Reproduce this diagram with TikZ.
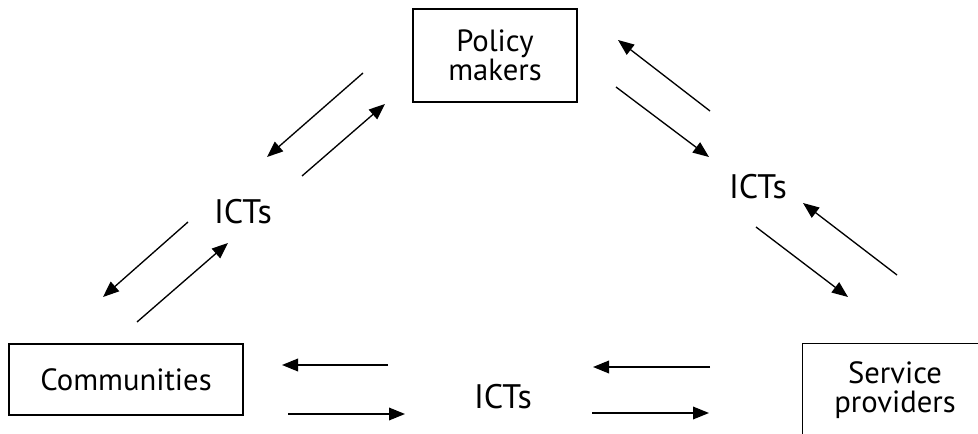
\documentclass[tikz,border=0pt]{standalone}
\usepackage{fontspec}
\setmainfont{PT Sans}
\usetikzlibrary{arrows.meta}

\begin{document}
\begin{tikzpicture}[x=0.75pt,y=-0.75pt,
  actor/.style={draw,line width=1.1pt,align=center,inner sep=0pt,
    font=\fontsize{23}{21.5}\selectfont},
  medium/.style={inner sep=0pt,font=\fontsize{25.5}{27}\selectfont},
  flow/.style={line width=1pt,-{Triangle[length=12pt,width=9.5pt]}}]
  \useasboundingbox (0,0) rectangle (978,434);
  % the three actors
  \node[actor,minimum width=123pt,minimum height=70pt,
    font=\fontsize{23}{19}\selectfont] (policy) at (495,55.5) {Policy\\makers};
  \node[actor,minimum width=175.5pt,minimum height=53pt] (comm) at (126,379.5) {Communities};
  % this one runs off the page, so only its left and top sides are stroked
  \node[actor,draw=none,minimum width=138pt,minimum height=69pt] (serv) at (895,390) {Service\\providers};
  \draw[line width=1.1pt] (serv.south west) |- (serv.north east);
  % ICTs in between each pair
  \node[medium] (ictL) at (243,212) {ICTs};
  \node[medium] (ictR) at (758,187) {ICTs};
  \node[medium] (ictB) at (503,397) {ICTs};
  % arrow ends, policy makers <-> communities
  \coordinate (pl1) at (363,73);  \coordinate (pl2) at (267,157);
  \coordinate (pl3) at (302,176); \coordinate (pl4) at (385,104);
  \coordinate (cl1) at (188,222); \coordinate (cl2) at (103,297);
  \coordinate (cl3) at (137,322); \coordinate (cl4) at (228,243);
  % policy makers <-> service providers
  \coordinate (pr1) at (710,111); \coordinate (pr2) at (618,40);
  \coordinate (pr3) at (616,87);  \coordinate (pr4) at (709,157);
  \coordinate (sr1) at (897,275); \coordinate (sr2) at (803,203);
  \coordinate (sr3) at (756,227); \coordinate (sr4) at (848,297);
  % communities <-> service providers
  \coordinate (cb1) at (388,365); \coordinate (cb2) at (282,365);
  \coordinate (cb3) at (288,414); \coordinate (cb4) at (405,414);
  \coordinate (sb1) at (710,367); \coordinate (sb2) at (593,367);
  \coordinate (sb3) at (592,413); \coordinate (sb4) at (709,413);
  \foreach \a/\b in {pl1/pl2,pl3/pl4,cl1/cl2,cl3/cl4,
                     pr1/pr2,pr3/pr4,sr1/sr2,sr3/sr4,
                     cb1/cb2,cb3/cb4,sb1/sb2,sb3/sb4}
    \draw[flow] (\a) -- (\b);
\end{tikzpicture}
\end{document}
